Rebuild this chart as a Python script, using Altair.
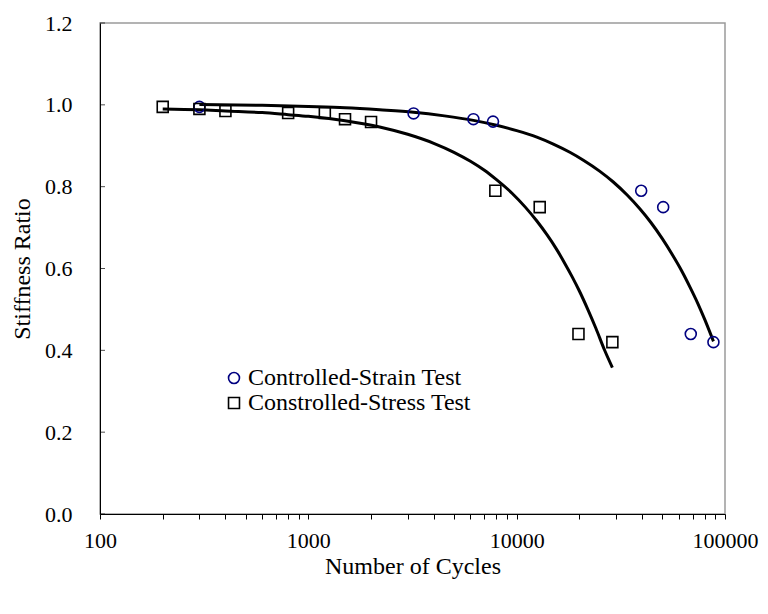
import altair as alt
import pandas as pd

# Measured points
strain_N = [300, 3200, 6200, 7700, 39600, 50500, 68500, 88000]
strain_y = [0.995, 0.979, 0.965, 0.959, 0.79, 0.75, 0.44, 0.42]
stress_N = [200, 300, 400, 800, 1200, 1500, 2000, 7900, 12900, 19800, 28800]
stress_y = [0.995, 0.99, 0.985, 0.98, 0.98, 0.965, 0.958, 0.79, 0.75, 0.44, 0.42]

# Trend curves
strain_curve_N = [300, 600, 1000, 1500, 2200, 3200, 4500, 6200, 8000, 10000, 12500, 15000,
                  18000, 21000, 25000, 29000, 34000, 39000, 44000, 50000, 56000, 62000,
                  68000, 74000, 80000, 88000]
strain_curve_y = [1.001, 0.999, 0.996, 0.993, 0.988, 0.982, 0.973, 0.962, 0.950, 0.937, 0.921,
                  0.904, 0.884, 0.864, 0.838, 0.812, 0.779, 0.746, 0.713, 0.673, 0.633, 0.594,
                  0.554, 0.515, 0.475, 0.422]
stress_curve_N = [200, 300, 400, 600, 800, 1000, 1500, 2200, 3000, 4000, 5000, 6000, 7000,
                  8000, 9500, 11000, 12500, 14000, 15500, 17000, 18500, 20000, 22000, 24000,
                  26500, 28800]
stress_curve_y = [0.990, 0.988, 0.985, 0.981, 0.976, 0.972, 0.961, 0.946, 0.928, 0.906, 0.884,
                  0.862, 0.840, 0.817, 0.784, 0.750, 0.716, 0.682, 0.648, 0.613, 0.579, 0.545,
                  0.499, 0.454, 0.399, 0.358]

series = ["Controlled-Strain Test", "Constrolled-Stress Test"]

pts = pd.DataFrame(
    [{"N": n, "y": v, "series": series[0]} for n, v in zip(strain_N, strain_y)]
    + [{"N": n, "y": v, "series": series[1]} for n, v in zip(stress_N, stress_y)]
)
curves = pd.DataFrame(
    [{"N": n, "y": v, "curve": "strain"} for n, v in zip(strain_curve_N, strain_curve_y)]
    + [{"N": n, "y": v, "curve": "stress"} for n, v in zip(stress_curve_N, stress_curve_y)]
)

x_ticks = [100, 200, 300, 400, 500, 600, 700, 800, 900,
           1000, 2000, 3000, 4000, 5000, 6000, 7000, 8000, 9000,
           10000, 20000, 30000, 40000, 50000, 60000, 70000, 80000, 90000, 100000]
y_ticks = [0.0, 0.2, 0.4, 0.6, 0.8, 1.0, 1.2]
ytick_df = pd.DataFrame({"y": y_ticks})

FONT = "Liberation Serif, Times New Roman, serif"

x_enc = alt.X(
    "N:Q",
    scale=alt.Scale(type="log", domain=[100, 100000], nice=False),
    axis=alt.Axis(
        title="Number of Cycles",
        values=x_ticks,
        format="d",
        labelExpr="(datum.value == 100 || datum.value == 1000 || datum.value == 10000 || datum.value == 100000) ? datum.label : ''",
        labelOverlap=False,
        labelFlush=False,
        tickSize=5,
        labelPadding=11,
        titlePadding=3,
    ),
)
y_scale = alt.Scale(domain=[0, 1.2], nice=False)
y_enc = alt.Y(
    "y:Q",
    scale=y_scale,
    axis=alt.Axis(
        title="Stiffness Ratio",
        values=y_ticks,
        format=".1f",
        ticks=False,
        labelPadding=28,
        titlePadding=10,
    ),
)

# inward-pointing y-axis ticks
yticks = alt.Chart(ytick_df).mark_tick(orient="horizontal", color="black", thickness=1, size=5).encode(
    y=alt.Y("y:Q", scale=y_scale), x=alt.value(2.5)
)

lines = alt.Chart(curves).mark_line(color="black", strokeWidth=3, interpolate="monotone").encode(
    x=x_enc, y=y_enc, detail="curve:N"
)

points = alt.Chart(pts).mark_point(filled=False, strokeWidth=1.6, size=120, opacity=1).encode(
    x=x_enc,
    y=y_enc,
    shape=alt.Shape("series:N", scale=alt.Scale(domain=series, range=["circle", "square"]),
                    legend=alt.Legend(title=None)),
    color=alt.Color("series:N", scale=alt.Scale(domain=series, range=["#000080", "#000000"]),
                    legend=alt.Legend(title=None)),
)

chart = (
    alt.layer(lines, points, yticks)
    .properties(
        width=625,
        height=491,
        padding={"left": 100, "top": 23, "right": 43, "bottom": 100},
        autosize=alt.AutoSizeParams(type="none"),
        background="white",
    )
    .configure_view(stroke="#9a9a9a", strokeWidth=1.5)
    .configure_axis(
        grid=False,
        domainColor="black",
        domainWidth=1,
        tickColor="black",
        tickWidth=1,
        labelFont=FONT,
        labelFontSize=22,
        labelColor="black",
        titleFont=FONT,
        titleFontSize=24,
        titleFontWeight="normal",
        titleColor="black",
    )
    .configure_legend(
        orient="none",
        legendX=122,
        legendY=343,
        padding=0,
        labelFont=FONT,
        labelFontSize=24,
        labelColor="black",
        labelLimit=0,
        labelOffset=2,
        rowPadding=1,
        symbolSize=120,
        symbolStrokeWidth=1.6,
        symbolFillColor="white",
    )
)

chart.save("out.html", embed_options={"renderer": "svg", "actions": False})
